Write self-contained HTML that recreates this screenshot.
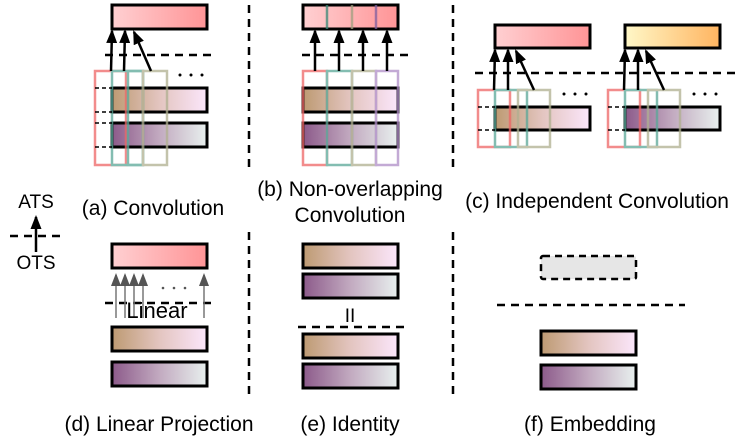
<!DOCTYPE html>
<html><head><meta charset="utf-8"><style>
body{margin:0;background:#fff}
svg{display:block}
text{font-family:"Liberation Sans",sans-serif;font-size:21px;fill:#000}
</style></head><body>
<svg width="747" height="446" viewBox="0 0 747 446" xmlns="http://www.w3.org/2000/svg">
<defs>
<linearGradient id="pk"><stop offset="0" stop-color="#ffd0d2"/><stop offset="1" stop-color="#ff9496"/></linearGradient>
<linearGradient id="yl"><stop offset="0" stop-color="#fff8c8"/><stop offset="1" stop-color="#ffb460"/></linearGradient>
<linearGradient id="br"><stop offset="0" stop-color="#bd9a72"/><stop offset="0.5" stop-color="#e3c5c0"/><stop offset="1" stop-color="#fbe6fb"/></linearGradient>
<linearGradient id="pu"><stop offset="0" stop-color="#8c5a8a"/><stop offset="0.5" stop-color="#c2aac0"/><stop offset="1" stop-color="#e8f0ee"/></linearGradient>
<marker id="ah" markerWidth="14" markerHeight="11" refX="12" refY="5.5" orient="auto" markerUnits="userSpaceOnUse" viewBox="0 0 14 11"><path d="M0,0L14,5.5L0,11z" fill="#000"/></marker>
<marker id="ag" markerWidth="13" markerHeight="10" refX="11" refY="5" orient="auto" markerUnits="userSpaceOnUse" viewBox="0 0 13 10"><path d="M0,0L13,5L0,10z" fill="#555"/></marker>
</defs>
<g stroke="#000" stroke-width="2.5" stroke-dasharray="8,6" fill="none">
<line x1="249" y1="5" x2="249" y2="167"/><line x1="249" y1="232" x2="249" y2="395"/>
<line x1="453" y1="5" x2="453" y2="167"/><line x1="453" y1="232" x2="453" y2="395"/>
<line x1="105" y1="55" x2="212" y2="55"/><line x1="302" y1="55" x2="408" y2="55"/>
<line x1="475" y1="73" x2="737" y2="73"/>
<line x1="10" y1="236" x2="60" y2="236"/>
<line x1="298" y1="327" x2="405" y2="327"/>
<line x1="497" y1="305" x2="685" y2="305"/>
<line x1="105" y1="303" x2="212" y2="303"/>
</g>
<g stroke="#000" stroke-width="3">
<rect x="112" y="5" width="95" height="24" fill="url(#pk)"/>
<rect x="112" y="88" width="95" height="24" fill="url(#br)"/>
<rect x="112" y="123" width="95" height="24" fill="url(#pu)"/>
<rect x="303" y="5" width="95" height="24" fill="url(#pk)"/>
<rect x="303" y="88" width="95" height="24" fill="url(#br)"/>
<rect x="303" y="123" width="95" height="24" fill="url(#pu)"/>
<rect x="495" y="25" width="95" height="23" fill="url(#pk)"/>
<rect x="625" y="25" width="95" height="23" fill="url(#yl)"/>
<rect x="495" y="107" width="95" height="23" fill="url(#br)"/>
<rect x="625" y="107" width="95" height="23" fill="url(#pu)"/>
<rect x="112" y="244" width="95" height="24" fill="url(#pk)"/>
<rect x="112" y="327" width="95" height="24" fill="url(#br)"/>
<rect x="112" y="362" width="95" height="24" fill="url(#pu)"/>
<rect x="303" y="244" width="95" height="24" fill="url(#br)"/>
<rect x="303" y="274" width="95" height="24" fill="url(#pu)"/>
<rect x="303" y="334" width="95" height="24" fill="url(#br)"/>
<rect x="303" y="364" width="95" height="24" fill="url(#pu)"/>
<rect x="541" y="331" width="95" height="24" fill="url(#br)"/>
<rect x="541" y="365" width="95" height="24" fill="url(#pu)"/>
</g>
<rect x="541" y="256" width="95" height="23" fill="#e6e6e6" stroke="#000" stroke-width="2.5" stroke-dasharray="7,5" rx="2"/>
<g stroke-width="2.5" fill="none" opacity="0.75">
<line x1="327" y1="5" x2="327" y2="29" stroke="#3a8a78"/><line x1="352" y1="5" x2="352" y2="29" stroke="#a0a080"/><line x1="376" y1="5" x2="376" y2="29" stroke="#8060a0"/>
</g>
<g stroke-width="2.5" fill="none" opacity="0.75">
<rect x="95" y="71" width="31" height="94" stroke="#ee6666"/>
<rect x="112" y="71" width="31" height="94" stroke="#5aa898"/>
<rect x="128" y="71" width="15" height="94" stroke="#5aa898"/>
<rect x="143" y="71" width="24" height="94" stroke="#b0b090"/>
<rect x="303" y="71" width="24" height="94" stroke="#ee6666"/>
<rect x="327" y="71" width="25" height="94" stroke="#5aa898"/>
<rect x="352" y="71" width="24" height="94" stroke="#b0b090"/>
<rect x="376" y="71" width="22" height="94" stroke="#b08ec8"/>
<rect x="478" y="90" width="32" height="57" stroke="#ee6666"/>
<rect x="495" y="90" width="32" height="57" stroke="#5aa898"/>
<rect x="518" y="90" width="32" height="57" stroke="#b0b090"/>
<rect x="608" y="90" width="32" height="57" stroke="#ee6666"/>
<rect x="625" y="90" width="32" height="57" stroke="#5aa898"/>
<rect x="648" y="90" width="32" height="57" stroke="#b0b090"/>
</g>
<g stroke="#000" stroke-width="1.5" stroke-dasharray="4,3">
<line x1="95" y1="88" x2="112" y2="88"/><line x1="95" y1="112" x2="112" y2="112"/><line x1="95" y1="123" x2="112" y2="123"/><line x1="95" y1="147" x2="112" y2="147"/>
<line x1="478" y1="107" x2="495" y2="107"/><line x1="478" y1="130" x2="495" y2="130"/>
<line x1="608" y1="107" x2="625" y2="107"/><line x1="608" y1="130" x2="625" y2="130"/>
</g>
<g stroke="#000" stroke-width="2.5" marker-end="url(#ah)">
<line x1="111" y1="71" x2="112" y2="31"/><line x1="124" y1="71" x2="125" y2="31"/><line x1="151" y1="71" x2="134" y2="32"/>
<line x1="315" y1="71" x2="315" y2="31"/><line x1="339" y1="71" x2="339" y2="31"/><line x1="363" y1="71" x2="363" y2="31"/><line x1="387" y1="71" x2="387" y2="31"/>
<line x1="494" y1="90" x2="495" y2="50"/><line x1="508" y1="90" x2="508" y2="50"/><line x1="534" y1="90" x2="516" y2="51"/>
<line x1="624" y1="90" x2="625" y2="50"/><line x1="638" y1="90" x2="638" y2="50"/><line x1="664" y1="90" x2="646" y2="51"/>
<line x1="36" y1="252" x2="36" y2="217"/>
</g>
<g stroke="#777" stroke-width="1.5" marker-end="url(#ag)">
<line x1="116" y1="318" x2="116" y2="275"/><line x1="125" y1="318" x2="125" y2="275"/><line x1="134" y1="318" x2="134" y2="275"/><line x1="143" y1="318" x2="143" y2="275"/><line x1="204" y1="318" x2="204" y2="275"/>
</g>
<g fill="#000">
<circle cx="180" cy="75" r="1.5"/><circle cx="191" cy="75" r="1.5"/><circle cx="202" cy="75" r="1.5"/>
<circle cx="564" cy="94" r="1.5"/><circle cx="575" cy="94" r="1.5"/><circle cx="586" cy="94" r="1.5"/>
<circle cx="694" cy="94" r="1.5"/><circle cx="705" cy="94" r="1.5"/><circle cx="716" cy="94" r="1.5"/>
<circle cx="163" cy="288" r="1.3" fill="#555"/><circle cx="174" cy="288" r="1.3" fill="#555"/><circle cx="185" cy="288" r="1.3" fill="#555"/>
</g>
<text x="157" y="318" text-anchor="middle" style="font-size:22px">Linear</text>
<text x="350" y="322" text-anchor="middle" style="font-size:19px">II</text>
<text x="36" y="208" text-anchor="middle" style="font-size:19px">ATS</text>
<text x="36" y="269" text-anchor="middle" style="font-size:19px">OTS</text>
<text x="153" y="215" text-anchor="middle">(a) Convolution</text>
<text x="350" y="196" text-anchor="middle">(b) Non-overlapping</text>
<text x="350" y="222" text-anchor="middle">Convolution</text>
<text x="597" y="208" text-anchor="middle">(c) Independent Convolution</text>
<text x="159" y="431" text-anchor="middle">(d) Linear Projection</text>
<text x="350" y="431" text-anchor="middle">(e) Identity</text>
<text x="590" y="431" text-anchor="middle">(f) Embedding</text>
</svg>
</body></html>
